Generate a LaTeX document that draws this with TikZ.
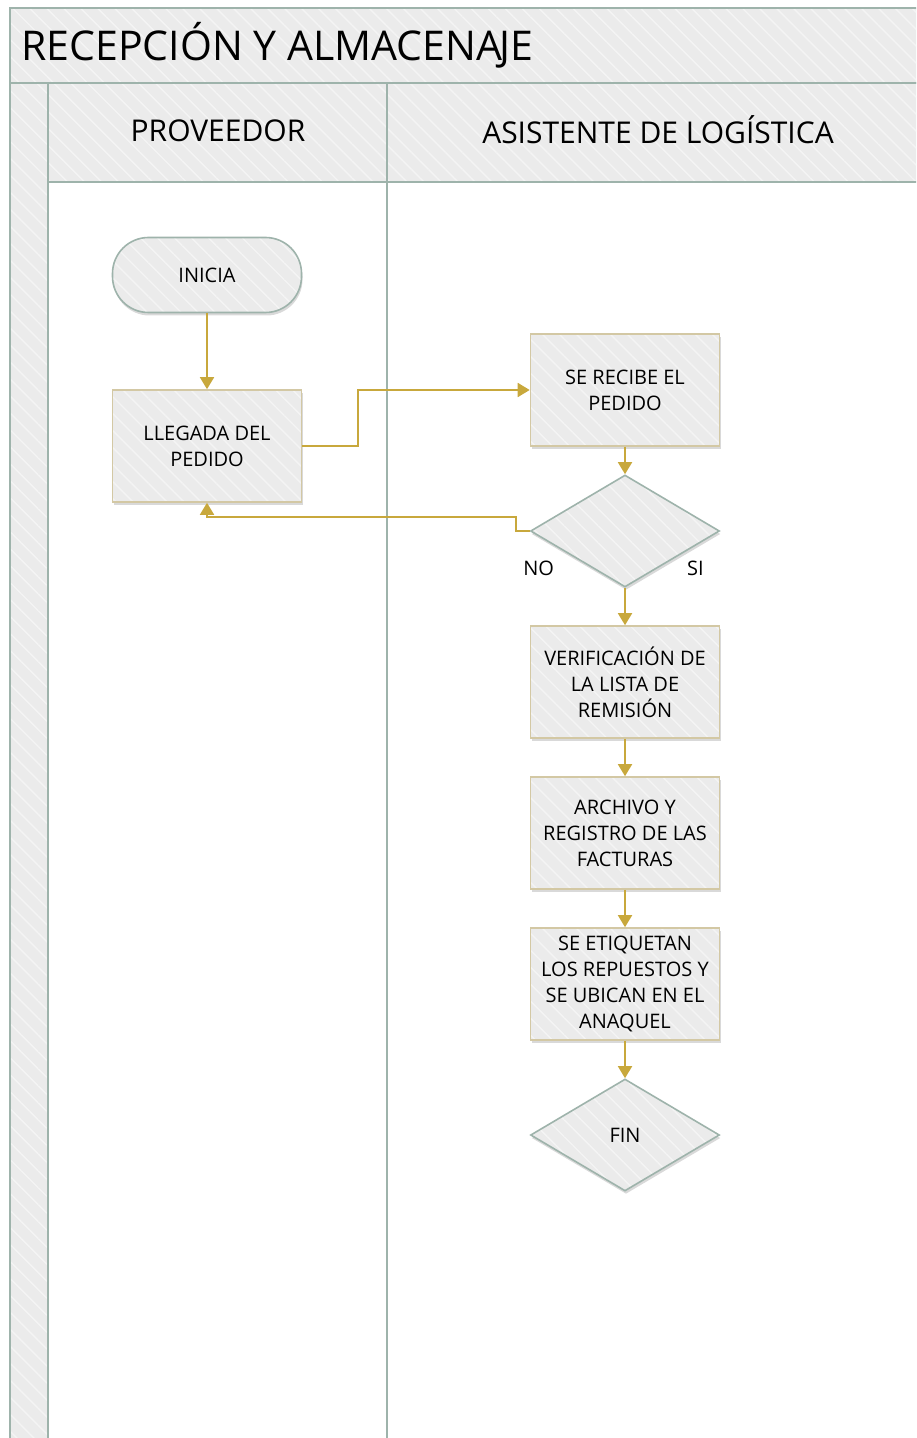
\documentclass[tikz,border=0pt]{standalone}
\usepackage{fontspec}
\setmainfont{Open Sans}
\usetikzlibrary{arrows.meta,shapes.geometric,shadows,patterns.meta}

\definecolor{lanegray}{HTML}{9EB3AB}
\definecolor{bandfill}{HTML}{EBEBEB}
\definecolor{stripe}{HTML}{F4F4F4}
\definecolor{boxline}{HTML}{D3C8A4}
\definecolor{flowgold}{HTML}{C8A83C}

\begin{document}
\begin{tikzpicture}[x=0.5pt, y=-0.5pt,
  band/.style={preaction={fill=bandfill}, pattern={Lines[angle=-45,distance=6pt,line width=0.7pt]}, pattern color=stripe, draw=lanegray, line width=1pt},
  lane/.style={draw=lanegray, line width=1pt},
  shape base/.style={drop shadow={shadow xshift=0.5pt, shadow yshift=-1.5pt, opacity=0.3}, preaction={fill=bandfill}, pattern={Lines[angle=-45,distance=6pt,line width=0.7pt]}, pattern color=stripe, line width=0.8pt, inner sep=0pt, align=center, font=\fontsize{10}{13}\selectfont},
  start/.style={shape base, rectangle, rounded corners=18pt, draw=lanegray, minimum width=94.5pt, minimum height=37.5pt},
  process/.style={shape base, rectangle, draw=boxline, minimum width=94.5pt, minimum height=56pt},
  decision/.style={shape base, diamond, draw=lanegray, minimum width=94.5pt, minimum height=56pt},
  flow/.style={draw=flowgold, line width=0.9pt, -{Triangle[width=7pt,length=6pt]}},
  tag/.style={font=\fontsize{10}{13}\selectfont}]

\useasboundingbox (0,0) rectangle (916,1438);
\clip (0,0) rectangle (916,1438);

% Draw the pool and the lanes
\draw[band] (10,8) rectangle (940,83);
\draw[band] (10,83) rectangle (48,1460);
\draw[band] (48,83) rectangle (387,182);
\draw[band] (387,83) rectangle (940,182);
\draw[lane] (48,182) -- (48,1460);
\draw[lane] (387,182) -- (387,1460);

% Pool and lane titles
\node[anchor=west, inner sep=0pt, font=\fontsize{20.5}{24}\selectfont] (titulo) at (21,45) {RECEPCIÓN Y ALMACENA\kern-1.5pt JE};
\node[font=\fontsize{15}{18}\selectfont] (proveedor) at (218,131) {PROVEEDOR};
\node[font=\fontsize{15}{18}\selectfont] (asistente) at (658,130) {ASISTENTE DE LOGÍSTICA};

% Place the steps
\node[start] (inicia) at (207,275) {INICIA};
\node[process] (llegada) at (207,446) {LLEGADA DEL\\PEDIDO};
\node[process] (recibe) at (625,390) {SE RECIBE EL\\PEDIDO};
\node[decision] (revisa) at (625,531) {};
\node[process] (verifica) at (625,682) {VERIFICACIÓN DE\\LA LISTA DE\\REMISIÓN};
\node[process] (archivo) at (625,833) {ARCHIVO Y\\REGISTRO DE LAS\\FACTURAS};
\node[process] (etiqueta) at (625,984) {SE ETIQUETAN\\LOS REPUESTOS Y\\SE UBICAN EN EL\\ANAQUEL};
\node[decision] (fin) at (625,1135) {FIN};

% Label the decision
\node[tag] (no) at ([xshift=4.5pt,yshift=-18.5pt]revisa.west) {NO};
\node[tag] (si) at ([xshift=-12.5pt,yshift=-18.5pt]revisa.east) {SI};

% Draw the connectors
\draw[flow] (inicia) -- (llegada);
\draw[flow] (llegada.east) -- ++(56,0) |- (recibe.west);
\draw[flow] (recibe) -- (revisa);
\draw[flow] (revisa.west) -- ++(-14,0) -- ++(0,-14) -| (llegada.south);
\draw[flow] (revisa) -- (verifica);
\draw[flow] (verifica) -- (archivo);
\draw[flow] (archivo) -- (etiqueta);
\draw[flow] (etiqueta) -- (fin);

\end{tikzpicture}
\end{document}
